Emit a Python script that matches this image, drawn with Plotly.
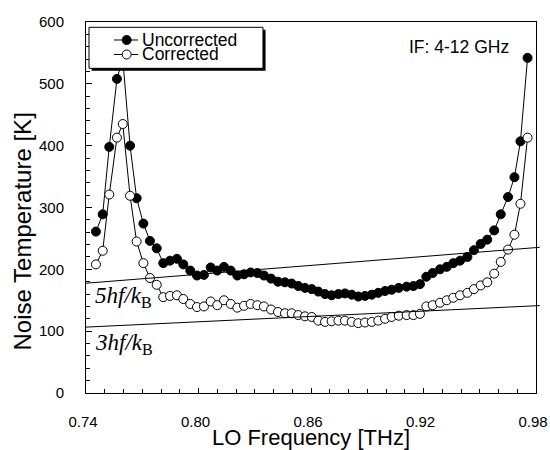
import plotly.graph_objects as go

# LO frequency [THz]
freq = [0.7453, 0.7489, 0.7524, 0.7565, 0.7596, 0.7635, 0.7670, 0.7706, 0.7741, 0.7777,
        0.7812, 0.7848, 0.7885, 0.7919, 0.7956, 0.7992, 0.8029, 0.8065, 0.8100, 0.8136,
        0.8172, 0.8207, 0.8243, 0.8278, 0.8314, 0.8349, 0.8387, 0.8424, 0.8461, 0.8497,
        0.8532, 0.8568, 0.8604, 0.8639, 0.8675, 0.8710, 0.8746, 0.8781, 0.8817, 0.8852,
        0.8888, 0.8924, 0.8959, 0.8995, 0.9030, 0.9068, 0.9110, 0.9146, 0.9181, 0.9215,
        0.9249, 0.9288, 0.9324, 0.9359, 0.9395, 0.9434, 0.9469, 0.9505, 0.9540, 0.9577,
        0.9612, 0.9651, 0.9685, 0.9717, 0.9755]

uncorrected = [261, 289, 398, 508, 540, 400, 315, 274, 246, 234,
               210, 214, 217, 208, 198, 190, 191, 203, 198, 204,
               198, 190, 192, 195, 194, 190, 185, 180, 179, 177,
               173, 170, 168, 164, 160, 158, 160, 161, 159, 156,
               157, 159, 162, 165, 167, 170, 172, 173, 176, 188,
               194, 200, 204, 210, 214, 220, 231, 241, 248, 263,
               289, 317, 349, 407, 542]

corrected = [208, 230, 321, 413, 435, 319, 245, 210, 186, 175,
             155, 157, 158, 152, 144, 139, 140, 148, 142, 150,
             144, 138, 141, 144, 142, 140, 135, 131, 129, 129,
             126, 124, 123, 117, 115, 116, 117, 117, 115, 113,
             114, 115, 117, 120, 123, 125, 126, 126, 128, 140,
             142, 146, 150, 154, 158, 162, 168, 174, 179, 193,
             212, 232, 256, 306, 413]

series_names = ["Uncorrected", "Corrected"]
series_fill = ["black", "white"]

# reference lines n*h*f/k_B
h_over_k = 0.04799  # K per GHz
line_n = [5, 3]
line_labels = ["<i>5hf/k</i><sub>B</sub>", "<i>3hf/k</i><sub>B</sub>"]
line_f = [0.74, 0.982]
label_T = [155, 80]

x_range = [0.74, 0.98]
y_range = [0, 600]

FONT = "Liberation Sans, Arial, sans-serif"
SERIF = "Liberation Serif, Times New Roman, serif"

fig = go.Figure()
for name, vals, fill in zip(series_names, [uncorrected, corrected], series_fill):
    fig.add_trace(go.Scatter(
        x=freq, y=vals, mode="lines+markers", name=name, showlegend=False,
        line=dict(color="black", width=1),
        marker=dict(symbol="circle", size=9, color=fill, line=dict(color="black", width=1)),
    ))

def px(f):
    return (f - x_range[0]) / (x_range[1] - x_range[0])

def py(t):
    return (t - y_range[0]) / (y_range[1] - y_range[0])

shapes = []
for n in line_n:
    t0 = n * h_over_k * line_f[0] * 1000
    t1 = n * h_over_k * line_f[1] * 1000
    shapes.append(dict(type="line", xref="paper", yref="paper",
                       x0=px(line_f[0]), y0=py(t0), x1=px(line_f[1]), y1=py(t1),
                       line=dict(color="black", width=1), layer="above"))

# legend box with shadow
shapes.append(dict(type="rect", xref="paper", yref="paper",
                   x0=0.0125, x1=0.3990, y0=0.8685, y1=0.9792,
                   fillcolor="black", line=dict(width=0), layer="above"))
shapes.append(dict(type="rect", xref="paper", yref="paper",
                   x0=0.0067, x1=0.3933, y0=0.8752, y1=0.9857,
                   fillcolor="white", line=dict(color="black", width=1), layer="above"))

annotations = []
leg_y = [0.9515, 0.9124]
for name, fill, ly in zip(series_names, series_fill, leg_y):
    shapes.append(dict(type="line", xref="paper", yref="paper",
                       x0=0.0622, x1=0.1156, y0=ly, y1=ly,
                       line=dict(color="black", width=1), layer="above"))
    shapes.append(dict(type="circle", xref="paper", yref="paper",
                       xsizemode="pixel", ysizemode="pixel",
                       xanchor=0.0904, yanchor=ly, x0=-4.5, x1=4.5, y0=-4.5, y1=4.5,
                       fillcolor=fill, line=dict(color="black", width=1), layer="above"))
    annotations.append(dict(x=0.119, y=ly, xref="paper", yref="paper", text=name,
                            showarrow=False, xanchor="left", yanchor="middle",
                            font=dict(family=FONT, size=17.5, color="black")))

for lab, t in zip(line_labels, label_T):
    annotations.append(dict(x=0.7437, y=t, xref="x", yref="y", text=lab, showarrow=False,
                            xanchor="left", yanchor="middle",
                            font=dict(family=SERIF, size=23, color="black")))
annotations.append(dict(x=0.9664, y=0.9326, xref="x", yref="paper", text="IF: 4-12 GHz",
                        showarrow=False, xanchor="right", yanchor="middle",
                        font=dict(family=FONT, size=17.5, color="black")))
# y-axis title (placed as in the reference, below the axis middle)
annotations.append(dict(x=-0.141, y=0.434, xref="paper", yref="paper",
                        text="Noise Temperature [K]", textangle=-90, showarrow=False,
                        xanchor="center", yanchor="middle",
                        font=dict(family=FONT, size=24, color="black")))

fig.update_layout(
    width=550, height=450,
    margin=dict(l=86, r=14, t=22, b=57, autoexpand=False),
    paper_bgcolor="white", plot_bgcolor="white",
    font=dict(family=FONT, color="black"),
    showlegend=False,
    shapes=shapes,
    annotations=annotations,
)

fig.update_xaxes(range=x_range, tick0=0.74, dtick=0.06, tickformat=".2f",
                 automargin=False, ticklabeloverflow="allow", ticklabelshift=-3,
                 showline=True, linecolor="black", linewidth=1, mirror=True,
                 ticks="inside", ticklen=5, tickcolor="black",
                 minor=dict(dtick=0.01, ticks="inside", ticklen=4, tickcolor="black"),
                 showgrid=False, zeroline=False,
                 tickfont=dict(size=15, family=FONT), ticklabelstandoff=15,
                 title=dict(text="LO Frequency [THz]", font=dict(size=22, family=FONT), standoff=4))
fig.update_yaxes(range=y_range, dtick=100,
                 automargin=False, ticklabeloverflow="allow",
                 showline=True, linecolor="black", linewidth=1, mirror=True,
                 ticks="inside", ticklen=6, tickcolor="black",
                 minor=dict(dtick=20, ticks="inside", ticklen=4, tickcolor="black"),
                 showgrid=False, zeroline=False,
                 tickfont=dict(size=15, family=FONT), ticklabelstandoff=18)

# remove the default page margin so the 550x450 figure fills the window exactly
fig.write_html("out.html", config={"displayModeBar": False},
               post_script="document.body.style.margin='0';document.body.style.overflow='hidden';")
